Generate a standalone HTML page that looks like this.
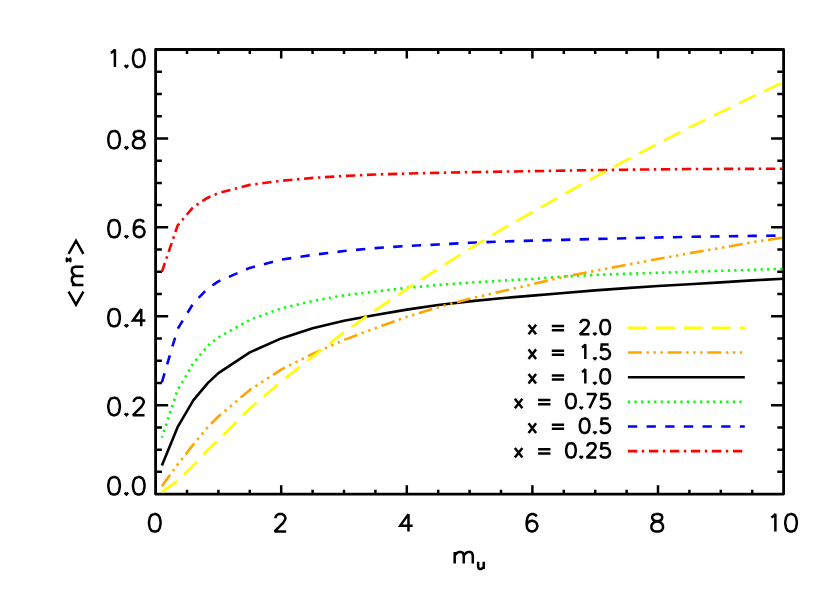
<!DOCTYPE html>
<html><head><meta charset="utf-8"><title>plot</title>
<style>html,body{margin:0;padding:0;background:#fff;font-family:"Liberation Sans",sans-serif;}svg{display:block}</style></head>
<body>
<svg width="830" height="593" viewBox="0 0 830 593">
<rect width="830" height="593" fill="#fff"/>
<g fill="none" stroke="#000" stroke-linejoin="round" stroke-linecap="butt">
<rect x="155.60" y="49.50" width="628.00" height="444.60" stroke-width="2.8"/>
<path d="M187.00 494.10 V489.65 M187.00 49.50 V53.95 M218.40 494.10 V489.65 M218.40 49.50 V53.95 M249.80 494.10 V489.65 M249.80 49.50 V53.95 M281.20 494.10 V485.20 M281.20 49.50 V58.40 M312.60 494.10 V489.65 M312.60 49.50 V53.95 M344.00 494.10 V489.65 M344.00 49.50 V53.95 M375.40 494.10 V489.65 M375.40 49.50 V53.95 M406.80 494.10 V485.20 M406.80 49.50 V58.40 M438.20 494.10 V489.65 M438.20 49.50 V53.95 M469.60 494.10 V489.65 M469.60 49.50 V53.95 M501.00 494.10 V489.65 M501.00 49.50 V53.95 M532.40 494.10 V485.20 M532.40 49.50 V58.40 M563.80 494.10 V489.65 M563.80 49.50 V53.95 M595.20 494.10 V489.65 M595.20 49.50 V53.95 M626.60 494.10 V489.65 M626.60 49.50 V53.95 M658.00 494.10 V485.20 M658.00 49.50 V58.40 M689.40 494.10 V489.65 M689.40 49.50 V53.95 M720.80 494.10 V489.65 M720.80 49.50 V53.95 M752.20 494.10 V489.65 M752.20 49.50 V53.95 M155.60 471.87 H161.88 M783.60 471.87 H777.32 M155.60 449.64 H161.88 M783.60 449.64 H777.32 M155.60 427.41 H161.88 M783.60 427.41 H777.32 M155.60 405.18 H168.15 M783.60 405.18 H771.05 M155.60 382.95 H161.88 M783.60 382.95 H777.32 M155.60 360.72 H161.88 M783.60 360.72 H777.32 M155.60 338.49 H161.88 M783.60 338.49 H777.32 M155.60 316.26 H168.15 M783.60 316.26 H771.05 M155.60 294.03 H161.88 M783.60 294.03 H777.32 M155.60 271.80 H161.88 M783.60 271.80 H777.32 M155.60 249.57 H161.88 M783.60 249.57 H777.32 M155.60 227.34 H168.15 M783.60 227.34 H771.05 M155.60 205.11 H161.88 M783.60 205.11 H777.32 M155.60 182.88 H161.88 M783.60 182.88 H777.32 M155.60 160.65 H161.88 M783.60 160.65 H777.32 M155.60 138.42 H168.15 M783.60 138.42 H771.05 M155.60 116.19 H161.88 M783.60 116.19 H777.32 M155.60 93.96 H161.88 M783.60 93.96 H777.32 M155.60 71.73 H161.88 M783.60 71.73 H777.32" stroke-width="2.5"/>
</g>
<g fill="none" stroke-width="2.60" stroke-linejoin="round" stroke-linecap="butt">
<path d="M161.88 271.80 L177.58 225.56 L193.28 207.02 L207.72 197.69 L218.40 193.11 L249.80 184.88 L281.20 180.79 L312.60 177.90 L344.00 175.99 L375.40 174.52 L406.80 173.59 L438.20 172.83 L469.60 172.12 L501.00 171.63 L532.40 171.14 L563.80 170.61 L595.20 170.08 L626.60 169.68 L658.00 169.36 L689.40 169.05 L720.80 168.88 L752.20 168.83 L783.60 168.79" stroke="#ff0000" stroke-dasharray="9.33 4.60 2.40 4.67"/>
<path d="M161.88 382.28 L177.58 329.15 L193.28 303.37 L207.72 288.52 L218.40 281.40 L249.80 267.89 L281.20 259.66 L312.60 254.91 L344.00 251.04 L375.40 248.10 L406.80 245.92 L438.20 244.50 L469.60 242.81 L501.00 241.57 L532.40 240.63 L563.80 239.83 L595.20 238.99 L626.60 238.23 L658.00 237.52 L689.40 236.85 L720.80 236.32 L752.20 235.88 L783.60 235.52" stroke="#0000ff" stroke-dasharray="9.33 9.33"/>
<path d="M161.88 437.64 L177.58 390.15 L193.28 363.30 L207.72 345.78 L218.40 337.38 L249.80 319.82 L281.20 308.35 L312.60 300.92 L344.00 295.36 L375.40 291.54 L406.80 287.89 L438.20 285.00 L469.60 282.60 L501.00 280.69 L532.40 279.00 L563.80 276.47 L595.20 274.91 L626.60 273.76 L658.00 272.78 L689.40 271.80 L720.80 270.82 L752.20 269.84 L783.60 268.82" stroke="#00ff00" stroke-dasharray="2.20 4.36" stroke-dashoffset="0.6"/>
<path d="M161.88 465.42 L177.58 427.19 L193.28 400.42 L207.72 383.08 L218.40 373.08 L249.80 352.41 L281.20 338.40 L312.60 328.26 L344.00 320.71 L375.40 314.93 L406.80 309.64 L438.20 305.01 L469.60 301.41 L501.00 298.25 L532.40 295.63 L563.80 293.05 L595.20 290.38 L626.60 288.12 L658.00 286.03 L689.40 284.20 L720.80 282.38 L752.20 280.34 L783.60 278.78" stroke="#000000"/>
<path d="M161.88 486.14 L177.58 464.53 L193.28 444.57 L207.72 427.23 L218.40 416.52 L249.80 389.89 L281.20 369.61 L312.60 353.83 L344.00 339.91 L375.40 328.18 L406.80 316.84 L438.20 307.19 L469.60 298.79 L501.00 291.54 L532.40 284.25 L563.80 276.87 L595.20 270.82 L626.60 264.78 L658.00 259.00 L689.40 253.22 L720.80 247.88 L752.20 242.23 L783.60 237.52" stroke="#ffa500" stroke-dasharray="14.00 4.60 2.40 4.60 2.40 4.60 2.40 4.67"/>
<path d="M161.88 492.10 L177.58 480.76 L193.28 465.65 L207.72 449.77 L218.40 439.86 L249.80 408.47 L281.20 381.44 L312.60 356.81 L344.00 332.31 L375.40 310.08 L406.80 289.14 L438.20 268.60 L469.60 248.95 L501.00 229.87 L532.40 212.18 L563.80 194.22 L595.20 176.88 L626.60 159.98 L658.00 143.58 L689.40 127.39 L720.80 112.19 L752.20 96.89 L783.60 81.96" stroke="#ffff00" stroke-dasharray="18.67 9.33"/>
<path d="M627.90 327.90 L744.80 327.90" stroke="#ffff00" stroke-dasharray="18.67 9.33"/>
<path d="M627.90 352.55 L744.80 352.55" stroke="#ffa500" stroke-dasharray="14.00 4.60 2.40 4.60 2.40 4.60 2.40 4.67"/>
<path d="M627.90 377.20 L744.80 377.20" stroke="#000000"/>
<path d="M627.90 401.85 L744.80 401.85" stroke="#00ff00" stroke-dasharray="2.20 4.36"/>
<path d="M627.90 426.50 L744.80 426.50" stroke="#0000ff" stroke-dasharray="9.33 9.33"/>
<path d="M627.90 451.15 L744.80 451.15" stroke="#ff0000" stroke-dasharray="9.33 4.60 2.40 4.67"/>
</g>
<path d="M153.98 514.12 L151.51 514.94 L149.86 517.41 L149.04 521.52 L149.04 523.99 L149.86 528.11 L151.51 530.58 L153.98 531.40 L155.62 531.40 L158.09 530.58 L159.74 528.11 L160.56 523.99 L160.56 521.52 L159.74 517.41 L158.09 514.94 L155.62 514.12 L153.98 514.12 M275.46 518.23 L275.46 517.41 L276.28 515.76 L277.11 514.94 L278.75 514.12 L282.05 514.12 L283.69 514.94 L284.51 515.76 L285.34 517.41 L285.34 519.05 L284.51 520.70 L282.87 523.17 L274.64 531.40 L286.16 531.40 M408.47 514.12 L400.24 525.64 L412.58 525.64 M408.47 514.12 L408.47 531.40 M536.54 516.59 L535.72 514.94 L533.25 514.12 L531.60 514.12 L529.13 514.94 L527.49 517.41 L526.66 521.52 L526.66 525.64 L527.49 528.93 L529.13 530.58 L531.60 531.40 L532.42 531.40 L534.89 530.58 L536.54 528.93 L537.36 526.46 L537.36 525.64 L536.54 523.17 L534.89 521.52 L532.42 520.70 L531.60 520.70 L529.13 521.52 L527.49 523.17 L526.66 525.64 M655.55 514.12 L653.09 514.94 L652.26 516.59 L652.26 518.23 L653.09 519.88 L654.73 520.70 L658.02 521.52 L660.49 522.35 L662.14 523.99 L662.96 525.64 L662.96 528.11 L662.14 529.75 L661.32 530.58 L658.85 531.40 L655.55 531.40 L653.09 530.58 L652.26 529.75 L651.44 528.11 L651.44 525.64 L652.26 523.99 L653.91 522.35 L656.38 521.52 L659.67 520.70 L661.32 519.88 L662.14 518.23 L662.14 516.59 L661.32 514.94 L658.85 514.12 L655.55 514.12 M771.28 517.41 L772.92 516.59 L775.39 514.12 L775.39 531.40 M790.21 514.12 L787.74 514.94 L786.09 517.41 L785.27 521.52 L785.27 523.99 L786.09 528.11 L787.74 530.58 L790.21 531.40 L791.85 531.40 L794.32 530.58 L795.97 528.11 L796.79 523.99 L796.79 521.52 L795.97 517.41 L794.32 514.94 L791.85 514.12 L790.21 514.12 M113.26 477.12 L110.79 477.94 L109.14 480.41 L108.32 484.52 L108.32 486.99 L109.14 491.11 L110.79 493.58 L113.26 494.40 L114.90 494.40 L117.37 493.58 L119.02 491.11 L119.84 486.99 L119.84 484.52 L119.02 480.41 L117.37 477.94 L114.90 477.12 L113.26 477.12 M126.42 492.75 L125.60 493.58 L126.42 494.40 L127.25 493.58 L126.42 492.75 M137.95 477.12 L135.48 477.94 L133.83 480.41 L133.01 484.52 L133.01 486.99 L133.83 491.11 L135.48 493.58 L137.95 494.40 L139.59 494.40 L142.06 493.58 L143.71 491.11 L144.53 486.99 L144.53 484.52 L143.71 480.41 L142.06 477.94 L139.59 477.12 L137.95 477.12 M113.26 397.85 L110.79 398.67 L109.14 401.14 L108.32 405.25 L108.32 407.72 L109.14 411.84 L110.79 414.31 L113.26 415.13 L114.90 415.13 L117.37 414.31 L119.02 411.84 L119.84 407.72 L119.84 405.25 L119.02 401.14 L117.37 398.67 L114.90 397.85 L113.26 397.85 M126.42 413.48 L125.60 414.31 L126.42 415.13 L127.25 414.31 L126.42 413.48 M133.83 401.96 L133.83 401.14 L134.66 399.49 L135.48 398.67 L137.12 397.85 L140.42 397.85 L142.06 398.67 L142.88 399.49 L143.71 401.14 L143.71 402.78 L142.88 404.43 L141.24 406.90 L133.01 415.13 L144.53 415.13 M113.26 308.93 L110.79 309.75 L109.14 312.22 L108.32 316.33 L108.32 318.80 L109.14 322.92 L110.79 325.39 L113.26 326.21 L114.90 326.21 L117.37 325.39 L119.02 322.92 L119.84 318.80 L119.84 316.33 L119.02 312.22 L117.37 309.75 L114.90 308.93 L113.26 308.93 M126.42 324.56 L125.60 325.39 L126.42 326.21 L127.25 325.39 L126.42 324.56 M141.24 308.93 L133.01 320.45 L145.35 320.45 M141.24 308.93 L141.24 326.21 M113.26 220.01 L110.79 220.83 L109.14 223.30 L108.32 227.41 L108.32 229.88 L109.14 234.00 L110.79 236.47 L113.26 237.29 L114.90 237.29 L117.37 236.47 L119.02 234.00 L119.84 229.88 L119.84 227.41 L119.02 223.30 L117.37 220.83 L114.90 220.01 L113.26 220.01 M126.42 235.64 L125.60 236.47 L126.42 237.29 L127.25 236.47 L126.42 235.64 M143.71 222.48 L142.88 220.83 L140.42 220.01 L138.77 220.01 L136.30 220.83 L134.66 223.30 L133.83 227.41 L133.83 231.53 L134.66 234.82 L136.30 236.47 L138.77 237.29 L139.59 237.29 L142.06 236.47 L143.71 234.82 L144.53 232.35 L144.53 231.53 L143.71 229.06 L142.06 227.41 L139.59 226.59 L138.77 226.59 L136.30 227.41 L134.66 229.06 L133.83 231.53 M113.26 131.09 L110.79 131.91 L109.14 134.38 L108.32 138.49 L108.32 140.96 L109.14 145.08 L110.79 147.55 L113.26 148.37 L114.90 148.37 L117.37 147.55 L119.02 145.08 L119.84 140.96 L119.84 138.49 L119.02 134.38 L117.37 131.91 L114.90 131.09 L113.26 131.09 M126.42 146.72 L125.60 147.55 L126.42 148.37 L127.25 147.55 L126.42 146.72 M137.12 131.09 L134.66 131.91 L133.83 133.56 L133.83 135.20 L134.66 136.85 L136.30 137.67 L139.59 138.49 L142.06 139.32 L143.71 140.96 L144.53 142.61 L144.53 145.08 L143.71 146.72 L142.88 147.55 L140.42 148.37 L137.12 148.37 L134.66 147.55 L133.83 146.72 L133.01 145.08 L133.01 142.61 L133.83 140.96 L135.48 139.32 L137.95 138.49 L141.24 137.67 L142.88 136.85 L143.71 135.20 L143.71 133.56 L142.88 131.91 L140.42 131.09 L137.12 131.09 M110.79 52.91 L112.43 52.09 L114.90 49.62 L114.90 66.90 M126.42 65.25 L125.60 66.08 L126.42 66.90 L127.25 66.08 L126.42 65.25 M137.95 49.62 L135.48 50.44 L133.83 52.91 L133.01 57.02 L133.01 59.49 L133.83 63.61 L135.48 66.08 L137.95 66.90 L139.59 66.90 L142.06 66.08 L143.71 63.61 L144.53 59.49 L144.53 57.02 L143.71 52.91 L142.06 50.44 L139.59 49.62 L137.95 49.62 M454.69 551.98 L454.69 563.50 M454.69 555.27 L457.16 552.80 L458.81 551.98 L461.28 551.98 L462.92 552.80 L463.75 555.27 L463.75 563.50 M463.75 555.27 L466.21 552.80 L467.86 551.98 L470.33 551.98 L471.97 552.80 L472.80 555.27 L472.80 563.50 M478.13 561.75 L478.13 566.85 L478.64 568.38 L479.66 568.89 L481.19 568.89 L482.21 568.38 L483.74 566.85 M483.74 561.75 L483.74 568.89 M528.55 324.72 L536.08 334.30 M536.08 324.72 L528.55 334.30 M551.81 326.09 L564.12 326.09 M551.81 330.20 L564.12 330.20 M580.54 323.36 L580.54 322.67 L581.22 321.30 L581.90 320.62 L583.27 319.94 L586.01 319.94 L587.38 320.62 L588.06 321.30 L588.74 322.67 L588.74 324.04 L588.06 325.41 L586.69 327.46 L579.85 334.30 L589.43 334.30 M594.90 332.93 L594.22 333.62 L594.90 334.30 L595.58 333.62 L594.90 332.93 M604.48 319.94 L602.42 320.62 L601.06 322.67 L600.37 326.09 L600.37 328.14 L601.06 331.56 L602.42 333.62 L604.48 334.30 L605.84 334.30 L607.90 333.62 L609.26 331.56 L609.95 328.14 L609.95 326.09 L609.26 322.67 L607.90 320.62 L605.84 319.94 L604.48 319.94 M528.55 349.37 L536.08 358.95 M536.08 349.37 L528.55 358.95 M551.81 350.74 L564.12 350.74 M551.81 354.85 L564.12 354.85 M581.90 347.32 L583.27 346.64 L585.32 344.59 L585.32 358.95 M594.90 357.58 L594.22 358.27 L594.90 358.95 L595.58 358.27 L594.90 357.58 M608.58 344.59 L601.74 344.59 L601.06 350.74 L601.74 350.06 L603.79 349.37 L605.84 349.37 L607.90 350.06 L609.26 351.43 L609.95 353.48 L609.95 354.85 L609.26 356.90 L607.90 358.27 L605.84 358.95 L603.79 358.95 L601.74 358.27 L601.06 357.58 L600.37 356.21 M528.55 374.02 L536.08 383.60 M536.08 374.02 L528.55 383.60 M551.81 375.39 L564.12 375.39 M551.81 379.50 L564.12 379.50 M581.90 371.97 L583.27 371.29 L585.32 369.24 L585.32 383.60 M594.90 382.23 L594.22 382.92 L594.90 383.60 L595.58 382.92 L594.90 382.23 M604.48 369.24 L602.42 369.92 L601.06 371.97 L600.37 375.39 L600.37 377.44 L601.06 380.86 L602.42 382.92 L604.48 383.60 L605.84 383.60 L607.90 382.92 L609.26 380.86 L609.95 377.44 L609.95 375.39 L609.26 371.97 L607.90 369.92 L605.84 369.24 L604.48 369.24 M514.87 398.67 L522.40 408.25 M522.40 398.67 L514.87 408.25 M538.13 400.04 L550.44 400.04 M538.13 404.15 L550.44 404.15 M570.28 393.89 L568.22 394.57 L566.86 396.62 L566.17 400.04 L566.17 402.09 L566.86 405.51 L568.22 407.57 L570.28 408.25 L571.64 408.25 L573.70 407.57 L575.06 405.51 L575.75 402.09 L575.75 400.04 L575.06 396.62 L573.70 394.57 L571.64 393.89 L570.28 393.89 M581.22 406.88 L580.54 407.57 L581.22 408.25 L581.90 407.57 L581.22 406.88 M596.27 393.89 L589.43 408.25 M586.69 393.89 L596.27 393.89 M608.58 393.89 L601.74 393.89 L601.06 400.04 L601.74 399.36 L603.79 398.67 L605.84 398.67 L607.90 399.36 L609.26 400.73 L609.95 402.78 L609.95 404.15 L609.26 406.20 L607.90 407.57 L605.84 408.25 L603.79 408.25 L601.74 407.57 L601.06 406.88 L600.37 405.51 M528.55 423.32 L536.08 432.90 M536.08 423.32 L528.55 432.90 M551.81 424.69 L564.12 424.69 M551.81 428.80 L564.12 428.80 M583.96 418.54 L581.90 419.22 L580.54 421.27 L579.85 424.69 L579.85 426.74 L580.54 430.16 L581.90 432.22 L583.96 432.90 L585.32 432.90 L587.38 432.22 L588.74 430.16 L589.43 426.74 L589.43 424.69 L588.74 421.27 L587.38 419.22 L585.32 418.54 L583.96 418.54 M594.90 431.53 L594.22 432.22 L594.90 432.90 L595.58 432.22 L594.90 431.53 M608.58 418.54 L601.74 418.54 L601.06 424.69 L601.74 424.01 L603.79 423.32 L605.84 423.32 L607.90 424.01 L609.26 425.38 L609.95 427.43 L609.95 428.80 L609.26 430.85 L607.90 432.22 L605.84 432.90 L603.79 432.90 L601.74 432.22 L601.06 431.53 L600.37 430.16 M514.87 447.97 L522.40 457.55 M522.40 447.97 L514.87 457.55 M538.13 449.34 L550.44 449.34 M538.13 453.45 L550.44 453.45 M570.28 443.19 L568.22 443.87 L566.86 445.92 L566.17 449.34 L566.17 451.39 L566.86 454.81 L568.22 456.87 L570.28 457.55 L571.64 457.55 L573.70 456.87 L575.06 454.81 L575.75 451.39 L575.75 449.34 L575.06 445.92 L573.70 443.87 L571.64 443.19 L570.28 443.19 M581.22 456.18 L580.54 456.87 L581.22 457.55 L581.90 456.87 L581.22 456.18 M587.38 446.61 L587.38 445.92 L588.06 444.55 L588.74 443.87 L590.11 443.19 L592.85 443.19 L594.22 443.87 L594.90 444.55 L595.58 445.92 L595.58 447.29 L594.90 448.66 L593.53 450.71 L586.69 457.55 L596.27 457.55 M608.58 443.19 L601.74 443.19 L601.06 449.34 L601.74 448.66 L603.79 447.97 L605.84 447.97 L607.90 448.66 L609.26 450.03 L609.95 452.08 L609.95 453.45 L609.26 455.50 L607.90 456.87 L605.84 457.55 L603.79 457.55 L601.74 456.87 L601.06 456.18 L600.37 454.81" fill="none" stroke="#000" stroke-width="2.50" stroke-linejoin="miter" stroke-miterlimit="2.5" stroke-linecap="butt"/>
<g transform="translate(83.40 308.00) rotate(-90)" fill="none" stroke="#000" stroke-linejoin="miter" stroke-miterlimit="2.5" stroke-linecap="butt"><path d="M16.46 -14.81 L3.29 -7.41 L16.46 -0.00 M23.04 -11.52 L23.04 -0.00 M23.04 -8.23 L25.51 -10.70 L27.16 -11.52 L29.63 -11.52 L31.27 -10.70 L32.10 -8.23 L32.10 -0.00 M32.10 -8.23 L34.57 -10.70 L36.21 -11.52 L38.68 -11.52 L40.33 -10.70 L41.15 -8.23 L41.15 -0.00 M54.10 -14.81 L67.27 -7.41 L54.10 -0.00" stroke-width="2.50"/><path d="M48.10 -17.86 L48.10 -11.74 M45.96 -17.35 L50.24 -12.25 M50.24 -17.35 L45.96 -12.25" stroke-width="1.9"/></g>
</svg>
</body></html>
